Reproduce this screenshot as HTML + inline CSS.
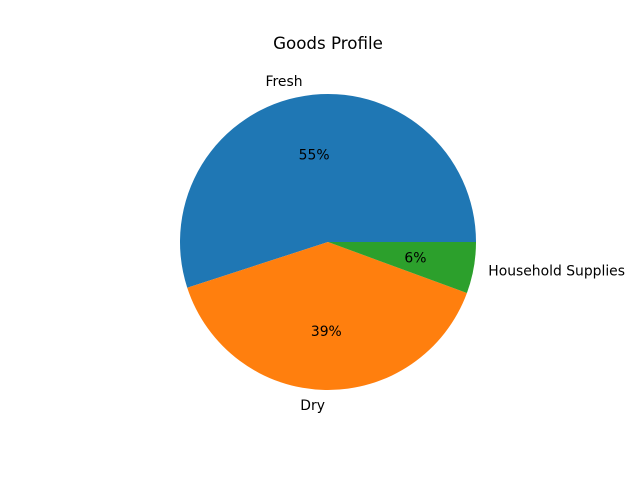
<!DOCTYPE html>
<html><head><meta charset="utf-8"><style>
body{margin:0;background:#fff}
svg text{font-family:"DejaVu Sans","Liberation Sans",sans-serif}
</style></head><body>
<svg id="chart" width="640" height="480" viewBox="0 0 640 480" xmlns="http://www.w3.org/2000/svg">
<rect width="640" height="480" fill="#fff"/>
<text x="328" y="49" text-anchor="middle" font-size="16.7">Goods Profile</text>
<g id="slices"></g>
</svg>
<script>
const categories = ["Fresh", "Dry", "Household Supplies"];
const values = [55, 39.4, 5.6];
const colors = ["#1f77b4", "#ff7f0e", "#2ca02c"];
const cx = 328, cy = 242, r = 148;
const NS = "http://www.w3.org/2000/svg";
const g = document.getElementById("slices");
const total = values.reduce((a, b) => a + b, 0);
let start = 0;
function pt(a, rr) { return [cx + rr * Math.cos(a), cy - rr * Math.sin(a)]; }
values.forEach((v, i) => {
  const sweep = v / total * 2 * Math.PI;
  const end = start + sweep;
  const [x1, y1] = pt(start, r), [x2, y2] = pt(end, r);
  const large = sweep > Math.PI ? 1 : 0;
  const p = document.createElementNS(NS, "path");
  p.setAttribute("d", `M${cx},${cy} L${x1},${y1} A${r},${r} 0 ${large} 0 ${x2},${y2} Z`);
  p.setAttribute("fill", colors[i]);
  
  
  g.appendChild(p);
  const mid = (start + end) / 2;
  const [lx, ly] = pt(mid, r * 1.1);
  const t = document.createElementNS(NS, "text");
  t.setAttribute("x", lx); t.setAttribute("y", ly + 5);
  t.setAttribute("font-size", "13.9");
  t.setAttribute("text-anchor", Math.cos(mid) < 0 ? "end" : "start");
  t.textContent = categories[i];
  
  
  g.appendChild(t);
  const [px, py] = pt(mid, r * 0.6);
  const tp = document.createElementNS(NS, "text");
  tp.setAttribute("x", px); tp.setAttribute("y", py + 5);
  tp.setAttribute("font-size", "13.9");
  tp.setAttribute("text-anchor", "middle");
  tp.textContent = Math.round(v / total * 100) + "%";
  
  
  g.appendChild(tp);
  start = end;
});
</script>
</body></html>
